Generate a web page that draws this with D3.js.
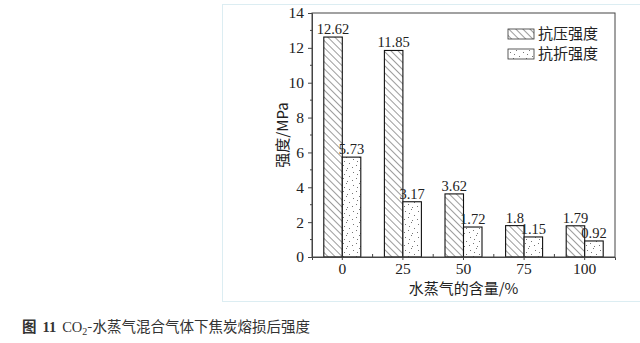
<!DOCTYPE html>
<html>
<head>
<meta charset="utf-8">
<script src="https://cdn.jsdelivr.net/npm/d3@7"></script>
<style>
  body { margin: 0; background: #fff; }
  svg { display: block; }
</style>
</head>
<body>
<div id="chart"></div>
<script>
// data
const categories = ["0", "25", "50", "75", "100"];
const compressive = [12.62, 11.85, 3.62, 1.8, 1.79];
const flexural = [5.73, 3.17, 1.72, 1.15, 0.92];
const valueLabels = [["12.62", "11.85", "3.62", "1.8", "1.79"], ["5.73", "3.17", "1.72", "1.15", "0.92"]];
const seriesNames = ["抗压强度", "抗折强度"];
const yTicks = [0, 2, 4, 6, 8, 10, 12, 14];

const width = 640, height = 343;
const margin = {left: 312, right: 25, top: 13, bottom: 86};
const serif = "'Liberation Serif', 'Times New Roman', serif";
const cjk = "'Noto Sans CJK SC', sans-serif";

const svg = d3.select("#chart").append("svg")
  .attr("width", width)
  .attr("height", height);

// patterns for the two bar fills
const defs = svg.append("defs");
const hatch = defs.append("pattern")
  .attr("id", "hatch")
  .attr("patternUnits", "userSpaceOnUse")
  .attr("width", 5).attr("height", 5)
  .attr("patternTransform", "rotate(-45)");
hatch.append("rect").attr("width", 5).attr("height", 5).attr("fill", "#fff");
hatch.append("line")
  .attr("x1", 0).attr("y1", 0).attr("x2", 0).attr("y2", 5)
  .attr("stroke", "#222").attr("stroke-width", 0.9);

const dots = defs.append("pattern")
  .attr("id", "dots")
  .attr("patternUnits", "userSpaceOnUse")
  .attr("width", 13).attr("height", 13);
dots.append("rect").attr("width", 13).attr("height", 13).attr("fill", "#fff");
[[2, 3], [8, 1], [11, 7], [5, 9], [1, 11], [9, 12], [6, 5]].forEach(p => {
  dots.append("rect").attr("x", p[0]).attr("y", p[1])
    .attr("width", 0.9).attr("height", 0.9).attr("fill", "#555");
});

// light panel frame behind the figure
svg.append("rect")
  .attr("x", 222.5).attr("y", 4.5)
  .attr("width", 430).attr("height", 297)
  .attr("fill", "none")
  .attr("stroke", "#dcedf2").attr("stroke-width", 1);

const x = d3.scaleBand()
  .domain(categories)
  .range([margin.left, width - margin.right])
  .padding(0);

const y = d3.scaleLinear()
  .domain([0, 14])
  .range([height - margin.bottom, margin.top]);

const barW = 18.5;
const series = [compressive, flexural];
const fills = ["url(#hatch)", "url(#dots)"];

series.forEach((vals, si) => {
  const g = svg.append("g");
  g.selectAll("rect")
    .data(vals)
    .join("rect")
    .attr("x", (d, i) => x(categories[i]) + x.bandwidth() / 2 - barW + si * barW)
    .attr("y", d => y(d))
    .attr("width", barW)
    .attr("height", d => y(0) - y(d))
    .attr("fill", fills[si])
    .attr("stroke", "#111")
    .attr("stroke-width", 1.1);

  g.selectAll("text")
    .data(vals)
    .join("text")
    .attr("x", (d, i) => x(categories[i]) + x.bandwidth() / 2 - barW / 2 + si * barW)
    .attr("y", d => y(d) - 3)
    .attr("text-anchor", "middle")
    .attr("font-family", serif)
    .attr("font-size", 14.5)
    .attr("fill", "#222")
    .text((d, i) => valueLabels[si][i]);
});

// frame
svg.append("rect")
  .attr("x", margin.left).attr("y", margin.top)
  .attr("width", width - margin.left - margin.right)
  .attr("height", height - margin.top - margin.bottom)
  .attr("fill", "none")
  .attr("stroke", "#444").attr("stroke-width", 1);

// y axis
const yAxis = svg.append("g")
  .attr("transform", `translate(${margin.left},0)`)
  .call(d3.axisLeft(y).tickValues(yTicks).tickSize(4).tickPadding(4).tickFormat(d3.format("d")));
yAxis.select(".domain").attr("stroke", "#444");
yAxis.selectAll(".tick line").attr("stroke", "#444");
yAxis.selectAll("text").attr("font-family", serif).attr("font-size", 15.5).attr("fill", "#222");

// minor y ticks
svg.append("g")
  .selectAll("line")
  .data(d3.range(1, 14, 2))
  .join("line")
  .attr("x1", margin.left - 2).attr("x2", margin.left)
  .attr("y1", d => y(d)).attr("y2", d => y(d))
  .attr("stroke", "#444");

// x axis
const xAxis = svg.append("g")
  .attr("transform", `translate(0,${height - margin.bottom})`)
  .call(d3.axisBottom(x).tickSize(3).tickPadding(3));
xAxis.select(".domain").attr("stroke", "#444");
xAxis.selectAll(".tick line").attr("stroke", "#444");
xAxis.selectAll("text").attr("font-family", serif).attr("font-size", 15.5).attr("fill", "#222");

// small inward ticks at the band edges
svg.append("g")
  .selectAll("line")
  .data(categories.slice(1))
  .join("line")
  .attr("x1", d => x(d)).attr("x2", d => x(d))
  .attr("y1", y(0)).attr("y2", y(0) - 3)
  .attr("stroke", "#444");

// axis titles
svg.append("text")
  .attr("transform", `translate(288,${(margin.top + height - margin.bottom) / 2}) rotate(-90)`)
  .attr("text-anchor", "middle")
  .attr("font-family", cjk)
  .attr("font-size", 15)
  .attr("fill", "#222")
  .text("强度/MPa");

svg.append("text")
  .attr("x", (margin.left + width - margin.right) / 2)
  .attr("y", 294)
  .attr("text-anchor", "middle")
  .attr("font-family", cjk)
  .attr("font-size", 15)
  .attr("fill", "#222")
  .text("水蒸气的含量/%");

// legend
const legend = svg.append("g").attr("transform", "translate(508,29)");
seriesNames.forEach((name, i) => {
  const row = legend.append("g").attr("transform", `translate(0,${i * 20})`);
  row.append("rect")
    .attr("width", 26).attr("height", 10)
    .attr("fill", fills[i])
    .attr("stroke", "#333").attr("stroke-width", 0.8);
  row.append("text")
    .attr("x", 30).attr("y", 10)
    .attr("font-family", cjk)
    .attr("font-size", 15)
    .attr("fill", "#222")
    .text(name);
});

// caption
const cap = svg.append("text")
  .attr("x", 22).attr("y", 332)
  .attr("font-size", 14.5)
  .attr("fill", "#333");
cap.append("tspan").attr("font-family", cjk).attr("font-weight", "bold").text("图");
cap.append("tspan").attr("font-family", serif).attr("font-weight", "bold").attr("dx", 6).text("11");
cap.append("tspan").attr("font-family", serif).attr("dx", 6).text("CO");
cap.append("tspan").attr("font-family", serif).attr("font-size", 10).attr("dy", 3).text("2");
cap.append("tspan").attr("font-family", cjk).attr("dy", -3).text("-水蒸气混合气体下焦炭熔损后强度");
</script>
</body>
</html>
